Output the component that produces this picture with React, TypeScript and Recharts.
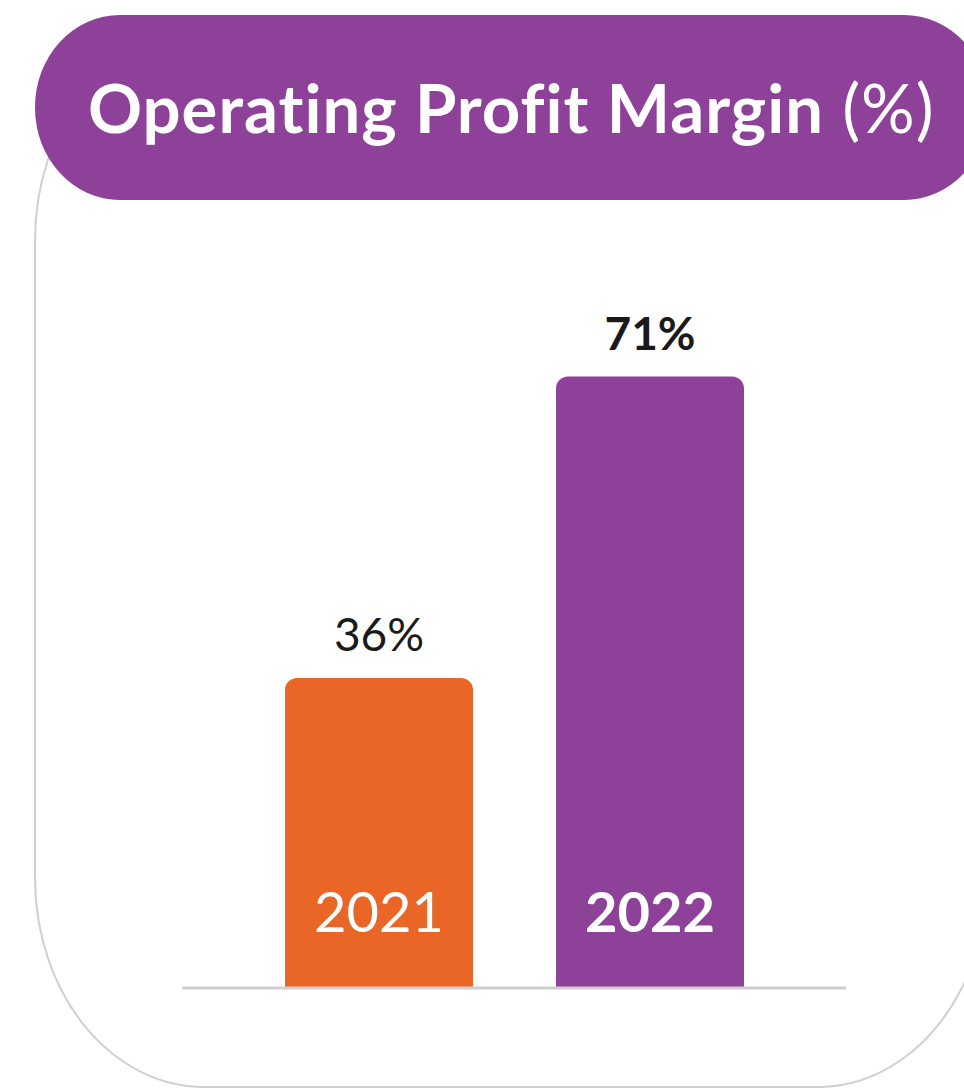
import { BarChart, Bar, XAxis, YAxis, Cell, LabelList } from "recharts";

const years = ["2021", "2022"];
const margins = [36, 71];
const barColors = ["#E96626", "#8E4199"];
const boldYear = [false, true];

const FONT = "Lato, 'Open Sans', sans-serif";

const data = years.map((year, i) => ({ year, margin: margins[i] }));

// value above the bar, e.g. "36%"
const ValueLabel = (props: any) => {
  const { x, y, width, index } = props;
  return (
    <text
      x={x + width / 2}
      y={y - 44}
      textAnchor="middle"
      dominantBaseline="central"
      fontFamily={FONT}
      fontSize={46}
      fontWeight={boldYear[index] ? 700 : 400}
      fill="#1a1a1a"
    >
      {`${margins[index]}%`}
    </text>
  );
};

// year written inside the bar near its foot
const YearLabel = (props: any) => {
  const { x, y, width, height, index } = props;
  return (
    <text
      x={x + width / 2}
      y={y + height - 78}
      textAnchor="middle"
      dominantBaseline="central"
      fontFamily={FONT}
      fontSize={56}
      fontWeight={boldYear[index] ? 700 : 400}
      fill="#ffffff"
    >
      {years[index]}
    </text>
  );
};

const App = () => {
  return (
    <div
      style={{
        position: "absolute",
        left: 0,
        top: 0,
        width: 964,
        height: 1090,
        overflow: "hidden",
        background: "#ffffff",
      }}
    >
      {/* card outline */}
      <div
        style={{
          position: "absolute",
          left: 34,
          top: 30,
          width: 954,
          height: 1058,
          boxSizing: "border-box",
          border: "2px solid #d0d0d0",
          borderRadius: "170px / 210px",
        }}
      />
      {/* header pill */}
      <div
        style={{
          position: "absolute",
          left: 35,
          top: 15,
          width: 954,
          height: 185,
          borderRadius: "85px / 92px",
          background: "#8E4199",
          color: "#ffffff",
          fontFamily: FONT,
          fontSize: 67,
          letterSpacing: 1,
          lineHeight: "185px",
          whiteSpace: "nowrap",
          paddingLeft: 53,
          boxSizing: "border-box",
        }}
      >
        <span style={{ fontWeight: 700 }}>Operating Profit Margin</span>{" "}
        <span style={{ fontWeight: 400 }}>(%)</span>
      </div>

      <div style={{ position: "absolute", left: 0, top: 0 }}>
        <BarChart
          width={964}
          height={1090}
          data={data}
          margin={{ top: 299, right: 118, bottom: 101, left: 182 }}
        >
          <XAxis
            dataKey="year"
            height={1}
            tick={false}
            tickLine={false}
            axisLine={{ stroke: "#cfcfcf", strokeWidth: 3 }}
            padding={{ left: 61, right: 61 }}
          />
          <YAxis hide domain={[0, 80]} />
          <Bar
            dataKey="margin"
            barSize={188}
            radius={[12, 12, 0, 0]}
            isAnimationActive={false}
          >
            {data.map((d, i) => (
              <Cell key={d.year} fill={barColors[i]} />
            ))}
            <LabelList dataKey="margin" content={ValueLabel} />
            <LabelList dataKey="year" content={YearLabel} />
          </Bar>
        </BarChart>
      </div>
    </div>
  );
};

export default App;
